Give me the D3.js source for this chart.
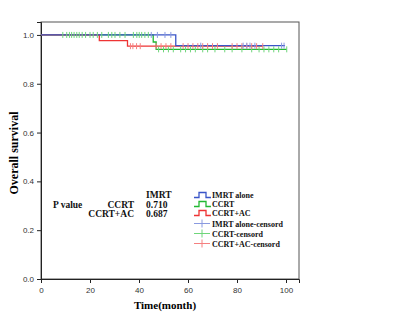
<!DOCTYPE html>
<html><head><meta charset="utf-8">
<script src="https://cdn.jsdelivr.net/npm/d3@7"></script>
<style>body{margin:0;background:#fff}svg{display:block}</style>
</head><body>
<script>
// ---- data ----
const groups = ["IMRT alone", "CCRT", "CCRT+AC"];
// event steps: [time, survival after the step]
const imrtSteps = [[0, 1.0], [55, 0.956]];
const ccrtSteps = [[0, 1.0], [45.8, 0.971], [47, 0.941]];
const ccrtacSteps = [[0, 1.0], [23.8, 0.977], [35.3, 0.954]];
const imrtEnd = 99.6, ccrtEnd = 100.3, ccrtacEnd = 90.5;
const imrtCensor = [45, 47.5, 50.6, 53, 65.2, 82.5, 84, 85.3, 87.3, 98.2, 99.2];
const ccrtCensor = [8.9, 10.5, 11.6, 12.5, 13.5, 14.6, 15.6, 16.8, 18.2, 20, 21.3, 23, 24.8, 27.5, 28.9, 30.2, 32.2, 34.3, 37.7, 39.1, 40.1, 41.1, 42.4, 43.8,
  48, 50, 52, 54, 57, 59, 61, 63, 66, 68, 71, 75, 78, 82, 86, 89, 91, 93, 95, 97, 100.3];
const ccrtacCensor = [36.5, 37.5, 39, 40.5, 47, 49, 51, 53, 58, 60, 62, 64, 66, 68, 70, 72, 78, 80, 82, 84, 86, 88, 90.5];
const xTicks = [0, 20, 40, 60, 80, 100];
const yTicks = [0.0, 0.2, 0.4, 0.6, 0.8, 1.0];
const legendLabels = ["IMRT alone", "CCRT", "CCRT+AC", "IMRT alone-censord", "CCRT-censord", "CCRT+AC-censord"];
const pHeader = "IMRT";
const pRows = [["CCRT", "0.710"], ["CCRT+AC", "0.687"]];

const colors = ["#3a55c8", "#22b832", "#ee3434"];
const censorColors = ["#8a9ae0", "#6fd67a", "#f58080"];

const W = 400, H = 320;
const svg = d3.select("body").append("svg").attr("width", W).attr("height", H);
const m = {left: 41, right: 299, top: 22, bottom: 279};
const x = d3.scaleLinear().domain([0, 105.3]).range([m.left, m.right]);
const y = d3.scaleLinear().domain([0, 1.053]).range([m.bottom, m.top]);

// frame
svg.append("rect").attr("x", m.left).attr("y", m.top).attr("width", m.right - m.left).attr("height", m.bottom - m.top)
  .attr("fill", "#fff").attr("stroke", "#555").attr("stroke-width", 1);

// axes
const xAxis = svg.append("g").attr("transform", `translate(0,${m.bottom})`)
  .call(d3.axisBottom(x).tickValues(xTicks).tickSize(4).tickFormat(d3.format("d")));
const yAxis = svg.append("g").attr("transform", `translate(${m.left},0)`)
  .call(d3.axisLeft(y).tickValues(yTicks).tickSize(4).tickFormat(d3.format(".1f")));
[xAxis, yAxis].forEach(g => {
  g.select(".domain").attr("stroke", "#222");
  g.selectAll(".tick line").attr("stroke", "#222");
  g.selectAll("text").attr("font-family", "Liberation Sans, Arial, sans-serif").attr("font-size", 8).attr("fill", "#333");
});
xAxis.selectAll("text").attr("dy", "0.9em");

// curves
const stepsAll = [imrtSteps, ccrtSteps, ccrtacSteps];
const ends = [imrtEnd, ccrtEnd, ccrtacEnd];
const censors = [imrtCensor, ccrtCensor, ccrtacCensor];
function survAt(steps, t) {
  let s = 1;
  steps.forEach(d => { if (d[0] <= t) s = d[1]; });
  return s;
}
const line = d3.line().x(d => x(d[0])).y(d => y(d[1])).curve(d3.curveStepAfter);
[1, 2, 0].forEach(i => {
  const pts = stepsAll[i].concat([[ends[i], stepsAll[i][stepsAll[i].length - 1][1]]]);
  svg.append("path").attr("d", line(pts)).attr("fill", "none").attr("stroke", colors[i]).attr("stroke-width", 1.3);
});
[1, 2, 0].forEach(i => {
  const g = svg.append("g");
  censors[i].forEach(t => {
    const cx = x(t), cy = y(survAt(stepsAll[i], t));
    g.append("line").attr("x1", cx).attr("x2", cx).attr("y1", cy - 3).attr("y2", cy + 3)
      .attr("stroke", censorColors[i]).attr("stroke-width", 1);
  });
});

// axis titles
svg.append("text").attr("x", 165).attr("y", 309).attr("text-anchor", "middle")
  .attr("font-family", "Liberation Serif, Times New Roman, serif").attr("font-weight", "bold").attr("font-size", 11)
  .text("Time(month)");
svg.append("text").attr("transform", "translate(18,153) rotate(-90)").attr("text-anchor", "middle")
  .attr("font-family", "Liberation Serif, Times New Roman, serif").attr("font-weight", "bold").attr("font-size", 12)
  .text("Overall survival");

// p value table
const ser = "Liberation Serif, Times New Roman, serif";
const pt = svg.append("g").attr("font-family", ser).attr("font-weight", "bold").attr("font-size", 9.5).attr("fill", "#111");
pt.append("text").attr("x", 146).attr("y", 198).text(pHeader);
pt.append("text").attr("x", 53).attr("y", 208).text("P value");
pRows.forEach((r, i) => {
  pt.append("text").attr("x", 134).attr("y", 208 + i * 9).attr("text-anchor", "end").text(r[0]);
  pt.append("text").attr("x", 146).attr("y", 208 + i * 9).text(r[1]);
});

// legend
const lg = svg.append("g").attr("font-family", ser).attr("font-weight", "bold").attr("font-size", 8).attr("fill", "#111");
const rowY = [195, 204, 213, 223.5, 233.5, 243.5];
legendLabels.forEach((lab, i) => {
  const yy = rowY[i];
  const ci = i % 3;
  if (i < 3) {
    const p = `M194,${yy + 2.5}H199V${yy - 2.5}H206V${yy + 2.5}H211`;
    lg.append("path").attr("d", p).attr("fill", "none").attr("stroke", colors[ci]).attr("stroke-width", 1.3);
  } else {
    lg.append("line").attr("x1", 194).attr("x2", 210).attr("y1", yy).attr("y2", yy).attr("stroke", censorColors[ci]).attr("stroke-width", 1);
    lg.append("line").attr("x1", 202).attr("x2", 202).attr("y1", yy - 4).attr("y2", yy + 4).attr("stroke", censorColors[ci]).attr("stroke-width", 1);
  }
  lg.append("text").attr("x", 212).attr("y", yy + 3).text(lab);
});
</script>
</body></html>
